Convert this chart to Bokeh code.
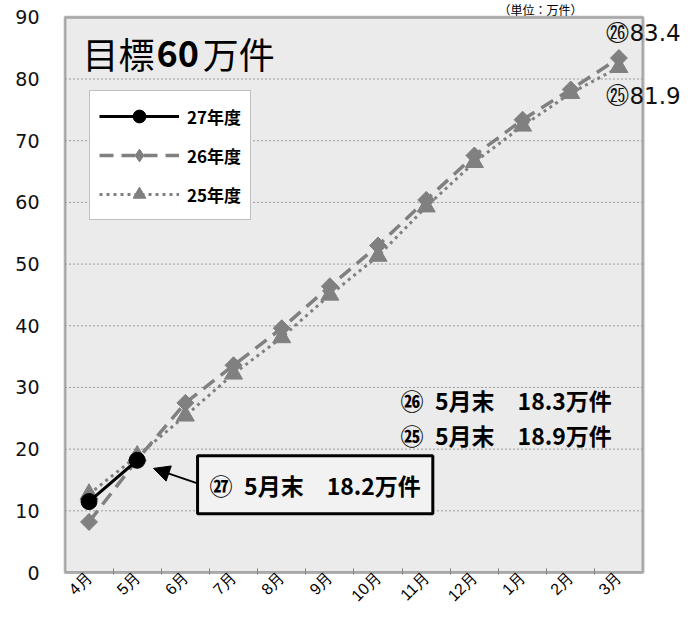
import math
from bokeh.plotting import figure
from bokeh.models import (Range1d, FixedTicker, Label, Arrow, NormalHead, Legend, LegendItem,
                          BoxAnnotation)
from bokeh.embed import file_html
from bokeh.resources import INLINE

# ---- data ----
months = ["4月", "5月", "6月", "7月", "8月", "9月", "10月", "11月", "12月", "1月", "2月", "3月"]
fy27 = [11.5, 18.2]
fy26 = [8.2, 18.3, 27.5, 33.6, 39.6, 46.4, 53.0, 60.4, 67.6, 73.4, 78.3, 83.4]
fy25 = [12.7, 18.9, 25.4, 32.2, 38.1, 45.0, 51.3, 59.3, 66.5, 72.4, 77.7, 81.9]
y_ticks = [0, 10, 20, 30, 40, 50, 60, 70, 80, 90]
series_names = ["27年度", "26年度", "25年度"]
target_parts = ["目標", "60", "万件"]
unit_text = "（単位：万件）"

GRAY = "#808080"
JP = "Noto Sans CJK JP"
n = len(months)
ymax = y_ticks[-1]

xs = [i + 0.5 for i in range(n)]

p = figure(width=682, height=613, output_backend="svg", toolbar_location=None,
           x_range=Range1d(-0.03, 12.82), y_range=Range1d(-0.32, 92.73),
           min_border_left=63, min_border_right=0, min_border_top=0, min_border_bottom=34)
p.background_fill_color = "white"
p.border_fill_color = "white"
p.outline_line_color = None
p.grid.visible = False

# plot area (grey panel with black frame)
p.add_layout(BoxAnnotation(left=0, right=n, bottom=y_ticks[0], top=ymax,
                           fill_color="#ebebeb", fill_alpha=1, line_color="black",
                           line_width=3, level="underlay"))
# horizontal dotted gridlines inside the panel
gy = y_ticks[1:-1]
p.segment(x0=[0] * len(gy), x1=[n] * len(gy), y0=gy, y1=gy,
          line_color="#9a9a9a", line_width=1, line_dash="2 2")

xa = p.xaxis[0]
xa.bounds = (0, n)
xa.ticker = FixedTicker(ticks=xs, minor_ticks=list(range(1, n)))
xa.major_label_overrides = {x: m for x, m in zip(xs, months)}
xa.major_tick_line_color = None
xa.major_tick_in = 0
xa.major_tick_out = 0
xa.minor_tick_in = 6
xa.minor_tick_out = 0
xa.minor_tick_line_color = GRAY
xa.axis_line_color = None
xa.major_label_orientation = math.pi / 4
xa.major_label_text_font = "Liberation Sans"
xa.major_label_text_font_size = "16px"
xa.major_label_text_color = "black"
xa.major_label_standoff = 0

ya = p.yaxis[0]
ya.bounds = (y_ticks[0], ymax)
ya.ticker = FixedTicker(ticks=y_ticks)
ya.major_tick_line_color = None
ya.major_tick_out = 0
ya.major_tick_in = 0
ya.minor_tick_line_color = None
ya.axis_line_color = None
ya.major_label_text_font = "DejaVu Sans"
ya.major_label_text_font_size = "19px"
ya.major_label_text_color = "#111111"
ya.major_label_standoff = 24

# ---- series ----
r25l = p.line(xs, fy25, line_color=GRAY, line_width=3, line_dash="3 4")
r25m = p.scatter(xs, fy25, marker="triangle", size=18, color=GRAY)
r26l = p.line(xs, fy26, line_color=GRAY, line_width=3.5, line_dash="14 8")
r26m = p.scatter(xs, fy26, marker="square", angle=math.pi / 4, size=12, color=GRAY)
r26k = p.scatter(xs, fy26, marker="diamond", size=16, color=GRAY)
x27 = xs[:len(fy27)]
r27l = p.line(x27, fy27, line_color="black", line_width=3)
r27m = p.scatter(x27, fy27, marker="circle", size=16, color="black")

legend = Legend(items=[LegendItem(label=series_names[0], renderers=[r27l, r27m]),
                       LegendItem(label=series_names[1], renderers=[r26l, r26k]),
                       LegendItem(label=series_names[2], renderers=[r25l, r25m])],
                location=(26, 354), orientation="vertical", margin=0,
                glyph_width=80, glyph_height=32, spacing=7, padding=9, label_standoff=8,
                label_text_font=JP, label_text_font_size="17px", label_text_font_style="bold",
                label_text_color="black",
                border_line_color=GRAY, border_line_width=1,
                background_fill_color="white", background_fill_alpha=1)
p.add_layout(legend)

# ---- title inside plot ----
ty = 84.2
p.add_layout(Label(x=0.365, y=ty, text=target_parts[0], text_font=JP, text_font_size="36px",
                   text_baseline="middle", text_align="left", text_color="black"))
p.add_layout(Label(x=1.90, y=ty, text=target_parts[1], text_font=JP, text_font_size="36px",
                   text_font_style="bold", text_baseline="middle", text_align="left", text_color="black"))
p.add_layout(Label(x=2.86, y=ty, text=target_parts[2], text_font=JP, text_font_size="36px",
                   text_baseline="middle", text_align="left", text_color="black"))

# ---- unit label ----
p.add_layout(Label(x=9.0, y=91.29, text=unit_text, text_font=JP, text_font_size="12px",
                   text_baseline="middle", text_align="left", text_color="black"))

# ---- end value labels ----
p.add_layout(Label(x=11.24, y=fy26[-1] + 4.0, text=f"㉖{fy26[-1]}", text_font="DejaVu Sans",
                   text_font_size="23px", text_baseline="middle", text_align="left", text_color="#111111"))
p.add_layout(Label(x=11.24, y=fy25[-1] - 4.6, text=f"㉕{fy25[-1]}", text_font="DejaVu Sans",
                   text_font_size="23px", text_baseline="middle", text_align="left", text_color="#111111"))

# ---- May-end annotations ----
SP1 = "\u2002"
SP2 = "\u3000"
p.add_layout(Label(x=6.966, y=27.97, text=f"㉖{SP1}5月末{SP2}{fy26[1]}万件", text_font=JP,
                   text_font_size="23px", text_font_style="bold", text_baseline="middle",
                   text_align="left", text_color="black"))
p.add_layout(Label(x=6.966, y=22.34, text=f"㉕{SP1}5月末{SP2}{fy25[1]}万件", text_font=JP,
                   text_font_size="23px", text_font_style="bold", text_baseline="middle",
                   text_align="left", text_color="black"))
p.add_layout(Label(x=2.753, y=14.22, text=f"㉗{SP1}5月末{SP2}{fy27[1]}万件", text_font=JP,
                   text_font_size="23px", text_font_style="bold", text_baseline="middle",
                   text_align="left", text_color="black",
                   background_fill_color="#f2f2f2", border_line_color="black", border_line_width=3,
                   padding=12))
p.add_layout(Arrow(end=NormalHead(size=16, fill_color="black", line_color="black"),
                   x_start=2.752, y_start=14.46, x_end=1.839, y_end=16.88,
                   line_color="black", line_width=2))

open("out.html", "w").write(file_html(p, INLINE))
